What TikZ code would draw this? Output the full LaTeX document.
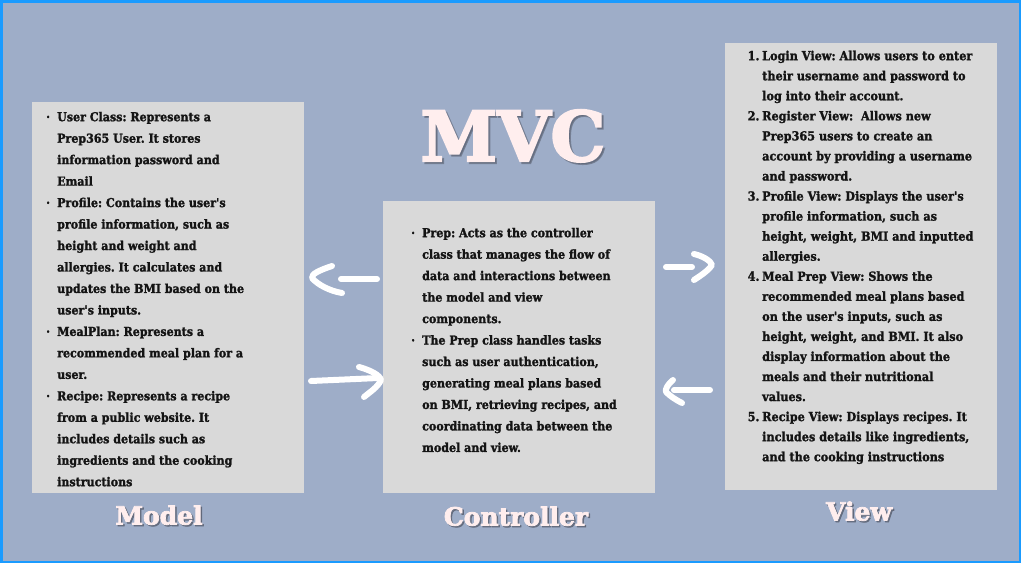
\documentclass[tikz,border=0pt]{standalone}
\usepackage{fontspec}
\setmainfont{DejaVu Serif}
\newfontfamily\slab[FakeStretch=0.9,FakeBold=1.6]{DejaVu Serif}
\newfontfamily\heavy[FakeBold=3]{DejaVu Serif}
\definecolor{bg}{HTML}{9EADC8}
\definecolor{boxgray}{HTML}{D9D9D9}
\definecolor{framecol}{HTML}{1A9BFF}
\definecolor{titlepink}{HTML}{FFEEEE}
\definecolor{shade}{HTML}{5A6070}
\definecolor{ink}{HTML}{141414}
\newcommand\mbul{\makebox[11pt][l]{·}}
\newcommand\mind{\makebox[11pt][l]{}}
\newcommand\mnum[1]{\makebox[13.5pt][l]{\hspace{-1pt}#1}}
\newcommand\mnind{\makebox[13.5pt][l]{}}
\newcommand\mstrut{\rule{0pt}{12pt}}
\frenchspacing
\begin{document}
\begin{tikzpicture}[x=1pt,y=-1pt,
  panel/.style={fill=boxgray, draw=none, anchor=north west, inner sep=0},
  body/.style={anchor=north west, inner sep=0, align=left, text=ink,
    font=\slab\bfseries\frenchspacing\fontsize{12.3}{21.47}\selectfont},
  viewbody/.style={body, font=\slab\bfseries\frenchspacing\fontsize{12.5}{20.05}\selectfont},
  heading/.style={text=titlepink, anchor=base, inner sep=0,
    font=\heavy\bfseries\fontsize{25}{25}\selectfont},
  headshade/.style={heading, text=shade, opacity=0.75},
  bigtitle/.style={heading, font=\heavy\bfseries\fontsize{69}{69}\selectfont},
  bigshade/.style={bigtitle, text=shade, opacity=0.6},
  warrow/.style={draw=white, line width=6pt, line cap=round, line join=round}]
\useasboundingbox (0,0) rectangle (1021,563);
\fill[bg] (0,0) rectangle (1021,563);
\draw[framecol, line width=2.5pt] (1.25,1.25) rectangle (1019.75,561.75);

% panels
\node[panel, minimum width=272pt, minimum height=391pt] (model) at (32,102) {};
\node[panel, minimum width=272pt, minimum height=292pt] (ctrl) at (383,201) {};
\node[panel, minimum width=272pt, minimum height=447pt] (view) at (725,43) {};

% title
\node[bigshade] (mvcshadow) at (515,163) {MVC};
\node[bigtitle] (mvc) at (513,161) {MVC};

% labels
\node[headshade] (modelshadow) at (160.5,526) {Model};
\node[heading] (modellabel) at (159,524.5) {Model};
\node[headshade] (ctrlshadow) at (517.5,527) {Controller};
\node[heading] (ctrllabel) at (516,525.5) {Controller};
\node[headshade] (viewshadow) at (860.5,522) {View};
\node[heading] (viewlabel) at (859,520.5) {View};

% model text
\node[body] (modeltext) at (46,109) {%
\mstrut\mbul User Class: Represents a\\
\mind Prep365 User. It stores\\
\mind information password and\\
\mind Email\\
\mbul Profile: Contains the user's\\
\mind profile information, such as\\
\mind height and weight and\\
\mind allergies. It calculates and\\
\mind updates the BMI based on the\\
\mind user's inputs.\\
\mbul MealPlan: Represents a\\
\mind recommended meal plan for a\\
\mind user.\\
\mbul Recipe: Represents a recipe\\
\mind from a public website. It\\
\mind includes details such as\\
\mind ingredients and the cooking\\
\mind instructions};

% controller text
\node[body] (ctrltext) at (411,225) {%
\mstrut\mbul Prep: Acts as the controller\\
\mind class that manages the flow of\\
\mind data and interactions between\\
\mind the model and view\\
\mind components.\\
\mbul The Prep class handles tasks\\
\mind such as user authentication,\\
\mind generating meal plans based\\
\mind on BMI, retrieving recipes, and\\
\mind coordinating data between the\\
\mind model and view.};

% view text
\node[viewbody] (viewtext) at (748.5,48) {%
\mstrut\mnum{1.}Login View: Allows users to enter\\
\mnind their username and password to\\
\mnind log into their account.\\
\mnum{2.}Register View: \ Allows new\\
\mnind Prep365 users to create an\\
\mnind account by providing a username\\
\mnind and password.\\
\mnum{3.}Profile View: Displays the user's\\
\mnind profile information, such as\\
\mnind height, weight, BMI and inputted\\
\mnind allergies.\\
\mnum{4.}Meal Prep View: Shows the\\
\mnind recommended meal plans based\\
\mnind on the user's inputs, such as\\
\mnind height, weight, and BMI. It also\\
\mnind display information about the\\
\mnind meals and their nutritional\\
\mnind values.\\
\mnum{5.}Recipe View: Displays recipes. It\\
\mnind includes details like ingredients,\\
\mnind and the cooking instructions};

% arrows between model and controller
\coordinate (a1s) at (377,279);
\coordinate (a1e) at (341,279);
\draw[warrow] (a1s) -- (a1e);
\draw[warrow] (332,266) .. controls (320,270) and (311,274) .. (312,278)
  .. controls (318,285) and (330,291) .. (342,293);

\coordinate (a2s) at (311,381);
\coordinate (a2e) at (378,378);
\draw[warrow] (a2s) -- (a2e);
\draw[warrow] (359,367) .. controls (370,370) and (380,375) .. (381,380)
  .. controls (378,387) and (370,392) .. (364,397);

% arrows between controller and view
\coordinate (a3s) at (666,267);
\coordinate (a3e) at (692,267);
\draw[warrow] (a3s) -- (a3e);
\draw[warrow] (694,254) .. controls (703,256) and (711,261) .. (712,265)
  .. controls (708,271) and (700,276) .. (694,280);

\coordinate (a4s) at (710,390);
\coordinate (a4e) at (674,390);
\draw[warrow] (a4s) -- (a4e);
\draw[warrow] (673,380) .. controls (668,384) and (665,389) .. (666,392)
  .. controls (670,396) and (676,400) .. (682,403);
\end{tikzpicture}
\end{document}
